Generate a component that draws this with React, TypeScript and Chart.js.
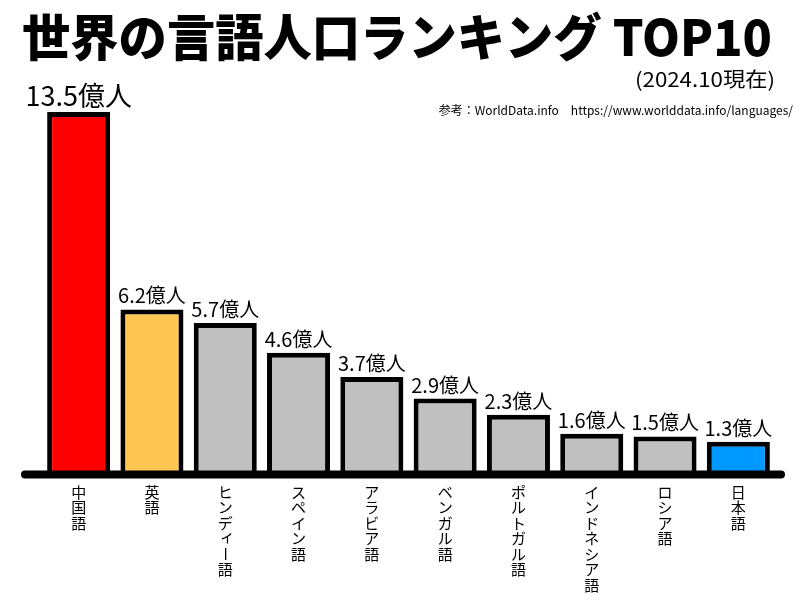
import React, { useEffect, useRef } from "react";
import { Chart, registerables } from "chart.js";

Chart.register(...registerables);

const categories = ["中国語", "英語", "ヒンディー語", "スペイン語", "アラビア語", "ベンガル語", "ポルトガル語", "インドネシア語", "ロシア語", "日本語"];
const speakers = [13.5, 6.2, 5.7, 4.6, 3.7, 2.9, 2.3, 1.6, 1.5, 1.3];
const valueLabels = ["13.5億人", "6.2億人", "5.7億人", "4.6億人", "3.7億人", "2.9億人", "2.3億人", "1.6億人", "1.5億人", "1.3億人"];
const barColors = ["#FF0000", "#FFC652", "#C0C0C0", "#C0C0C0", "#C0C0C0", "#C0C0C0", "#C0C0C0", "#C0C0C0", "#C0C0C0", "#0099FF"];
const titleText = "世界の言語人口ランキング TOP10";
const subtitleText = "(2024.10現在)";
const sourceText = "参考：WorldData.info　https://www.worlddata.info/languages/";

const JP = '"Noto Sans CJK JP", "Noto Sans", sans-serif';

const decorPlugin = {
  id: "decor",
  afterDatasetsDraw(chart: any) {
    const ctx = chart.ctx as CanvasRenderingContext2D;
    const area = chart.chartArea;
    const meta = chart.getDatasetMeta(0);
    ctx.save();
    // baseline
    ctx.strokeStyle = "#000";
    ctx.lineWidth = 8;
    ctx.lineCap = "round";
    ctx.beginPath();
    ctx.moveTo(25, area.bottom - 2.5);
    ctx.lineTo(781, area.bottom - 2.5);
    ctx.stroke();

    // value labels
    ctx.fillStyle = "#000";
    ctx.textAlign = "center";
    ctx.textBaseline = "alphabetic";
    meta.data.forEach((bar: any, i: number) => {
      const size = i === 0 ? 27 : 20;
      ctx.font = `400 ${size}px ${JP}`;
      ctx.fillText(valueLabels[i], bar.x, bar.y - 6);
    });

    // vertical category labels
    ctx.font = `15px ${JP}`;
    ctx.textBaseline = "middle";
    categories.forEach((cat, i) => {
      const x = meta.data[i].x;
      const chars = Array.from(cat);
      chars.forEach((ch, j) => {
        const y = 492 + j * 15.5;
        if (ch === "ー") {
          ctx.save();
          ctx.translate(x, y);
          ctx.rotate(Math.PI / 2);
          ctx.fillText(ch, 0, 0);
          ctx.restore();
        } else if ("ィァゥェォャュョッ".includes(ch)) {
          ctx.fillText(ch, x + 2, y - 2);
        } else {
          ctx.fillText(ch, x, y);
        }
      });
    });

    // title
    ctx.textAlign = "left";
    ctx.textBaseline = "alphabetic";
    ctx.font = `900 50px ${JP}`;
    const tw = ctx.measureText(titleText).width;
    ctx.save();
    ctx.translate(22, 56);
    ctx.scale(750 / tw, 1);
    ctx.fillText(titleText, 0, 0);
    ctx.restore();

    // subtitle
    ctx.font = `20px ${JP}`;
    const sw = ctx.measureText(subtitleText).width;
    ctx.save();
    ctx.translate(775, 87);
    ctx.scale(140 / sw, 1);
    ctx.textAlign = "right";
    ctx.fillText(subtitleText, 0, 0);
    ctx.restore();

    // source
    ctx.font = `12px ${JP}`;
    ctx.textAlign = "right";
    ctx.fillText(sourceText, 793, 115);
    ctx.restore();
  },
};

export default function App() {
  const ref = useRef<HTMLCanvasElement>(null);
  useEffect(() => {
    document.body.style.margin = "0";
    const chart = new Chart(ref.current!, {
      type: "bar",
      data: {
        labels: categories,
        datasets: [
          {
            data: speakers,
            backgroundColor: barColors,
            borderColor: "#000",
            borderWidth: 5,
            borderSkipped: false,
            categoryPercentage: 1,
            barPercentage: 0.86,
          },
        ],
      },
      options: {
        animation: false,
        responsive: false,
        layout: { padding: { top: 98.5, bottom: 123, left: 42, right: 25 } },
        plugins: { legend: { display: false }, tooltip: { enabled: false }, title: { display: false } },
        scales: {
          x: { display: false, grid: { display: false } },
          y: { display: false, min: 0, max: 14, grid: { display: false } },
        },
      },
      plugins: [decorPlugin],
    });
    return () => chart.destroy();
  }, []);
  return <canvas ref={ref} width={800} height={600} style={{ display: "block" }} />;
}
